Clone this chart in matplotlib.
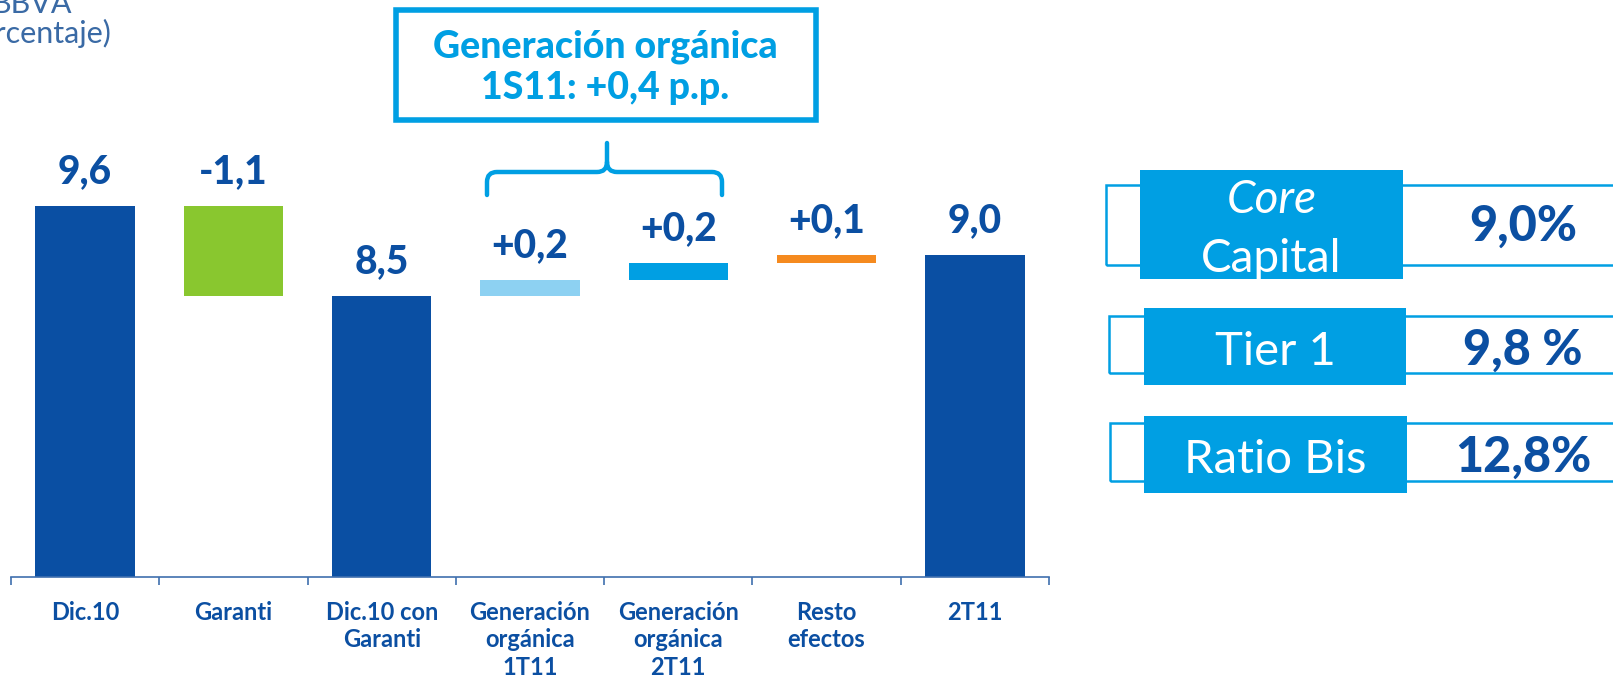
import matplotlib
matplotlib.use("Agg")
import matplotlib.pyplot as plt
import numpy as np
from matplotlib.patches import Rectangle, PathPatch
from matplotlib.path import Path

# ---- data -------------------------------------------------------------
CATEGORIES = [
    "Dic.10",
    "Garanti",
    "Dic.10 con\nGaranti",
    "Generación\norgánica\n1T11",
    "Generación\norgánica\n2T11",
    "Resto\nefectos",
    "2T11",
]
BAR_VALUES = [9.6, -1.1, 8.5, 0.2, 0.2, 0.1, 9.0]
BAR_LABELS = ["9,6", "-1,1", "8,5", "+0,2", "+0,2", "+0,1", "9,0"]
IS_TOTAL = [True, False, True, False, False, False, True]

RATIO_NAMES = ["Core\nCapital", "Tier 1", "Ratio Bis"]
RATIO_VALUES = ["9,0%", "9,8 %", "12,8%"]

BOX_TEXT = "Generación orgánica\n1S11: +0,4 p.p."

# ---- style ------------------------------------------------------------
DARK_BLUE = "#0a4fa3"
CYAN = "#009fe3"
BAR_COLORS = [DARK_BLUE, "#89c72f", DARK_BLUE, "#8dd1f2", "#009fe3", "#f58a1f", DARK_BLUE]
TEXT_BLUE = "#0b4fa2"
NOTE_BLUE = "#3a6aa5"

W, H = 1613, 683
DPI = 100

plt.rcParams["font.family"] = ["Lato", "DejaVu Sans"]


def fx(px):
    return px / W


def fy(py):
    return 1 - py / H


fig = plt.figure(figsize=(W / DPI, H / DPI), dpi=DPI)

# axes spans category boundaries: x=-0.5 at 11px, x=6.5 at 1049px
ax = fig.add_axes([fx(11), fy(577), fx(1049) - fx(11), fy(100) - fy(577)])
ax.set_xlim(-0.5, len(CATEGORIES) - 0.5)
ax.set_ylim(5.065, 10.896)

x = np.arange(len(CATEGORIES))
running = 0.0
tops = []
for i, (val, total) in enumerate(zip(BAR_VALUES, IS_TOTAL)):
    if total:
        bottom, height = 0.0, val
        running = val
    else:
        bottom = running + min(val, 0)
        height = abs(val)
        running += val
    ax.bar(x[i], height, bottom=bottom, width=0.67, color=BAR_COLORS[i], linewidth=0)
    tops.append(bottom + height)

for i, label in enumerate(BAR_LABELS):
    ax.annotate(label, (x[i], tops[i]), xytext=(0, 23), textcoords="offset pixels",
                ha="center", va="baseline", fontsize=28, fontweight="black", color=TEXT_BLUE)

for side in ("top", "right", "left"):
    ax.spines[side].set_visible(False)
ax.spines["bottom"].set_color("#3f6fae")
ax.spines["bottom"].set_linewidth(1.2)
ax.set_yticks([])
ax.set_xticks(x)
ax.set_xticklabels(CATEGORIES, fontsize=17, fontweight="bold", color=TEXT_BLUE, linespacing=1.25)
ax.tick_params(axis="x", which="major", length=0, pad=17)
ax.set_xticks(np.arange(-0.5, len(CATEGORIES)), minor=True)
ax.tick_params(axis="x", which="minor", length=6, width=1.2, color="#3f6fae", direction="out")

# ---- top-left note (cut off at the edge, as in the original) -------------
fig.text(fx(72), fy(13), "BBVA", ha="right", va="baseline", fontsize=22, color=NOTE_BLUE)
fig.text(fx(112), fy(43), "(porcentaje)", ha="right", va="baseline", fontsize=22, color=NOTE_BLUE)

# ---- organic generation box and brace -----------------------------------
fig.patches.append(Rectangle((fx(396), fy(119.5)), fx(815.5) - fx(396), fy(10.5) - fy(119.5),
                             transform=fig.transFigure, fill=False, edgecolor=CYAN, linewidth=4))
fig.text(fx(605), fy(47), BOX_TEXT.split("\n")[0], ha="center", va="center",
         fontsize=27, fontweight="black", color=CYAN)
fig.text(fx(605), fy(88), BOX_TEXT.split("\n")[1], ha="center", va="center",
         fontsize=27, fontweight="black", color=CYAN)

brace_pts = [
    (487, 195), (487, 182), (487, 172), (497, 172), (597, 172), (607, 172), (607, 162), (607, 143),
    (607, 162), (607, 172), (617, 172), (712, 172), (722, 172), (722, 182), (722, 195),
]
brace_codes = [
    Path.MOVETO, Path.LINETO, Path.CURVE3, Path.CURVE3, Path.LINETO, Path.CURVE3, Path.CURVE3, Path.LINETO,
    Path.MOVETO, Path.CURVE3, Path.CURVE3, Path.LINETO, Path.CURVE3, Path.CURVE3, Path.LINETO,
]
brace = Path([(fx(a), fy(b)) for a, b in brace_pts], brace_codes)
fig.patches.append(PathPatch(brace, transform=fig.transFigure, fill=False,
                             edgecolor=CYAN, linewidth=3.2, capstyle="round", joinstyle="round"))

# ---- ratio panel --------------------------------------------------------
outlines = [(1106, 184.7, 264.7), (1109, 315.5, 373), (1109.5, 422.8, 480.5)]
fills = [(1140, 1403, 170, 279), (1144, 1406, 308, 385), (1144, 1407, 416, 493)]
for (ox, oy0, oy1), (x0, x1, y0, y1) in zip(outlines, fills):
    fig.patches.append(Rectangle((fx(ox), fy(oy1)), fx(1640) - fx(ox), fy(oy0) - fy(oy1),
                                 transform=fig.transFigure, fill=False, edgecolor=CYAN,
                                 linewidth=1.8, zorder=1))
    fig.patches.append(Rectangle((fx(x0), fy(y1)), fx(x1) - fx(x0), fy(y0) - fy(y1),
                                 transform=fig.transFigure, facecolor=CYAN, edgecolor="none", zorder=2))

# Core Capital: italic "Core" above regular "Capital"
core, capital = RATIO_NAMES[0].split("\n")
fig.text(fx(1271.5), fy(213), core, ha="center", va="baseline", fontsize=33,
         style="italic", color="white", zorder=3)
fig.text(fx(1271.5), fy(272), capital, ha="center", va="baseline", fontsize=33,
         color="white", zorder=3)
fig.text(fx(1275), fy(365), RATIO_NAMES[1], ha="center", va="baseline", fontsize=34,
         color="white", zorder=3)
fig.text(fx(1275.5), fy(473), RATIO_NAMES[2], ha="center", va="baseline", fontsize=34,
         color="white", zorder=3)

for val, base in zip(RATIO_VALUES, [241, 365, 472]):
    fig.text(fx(1523), fy(base), val, ha="center", va="baseline", fontsize=35,
             fontweight="black", color=TEXT_BLUE, zorder=3)

fig.savefig("out.png", dpi=DPI)
